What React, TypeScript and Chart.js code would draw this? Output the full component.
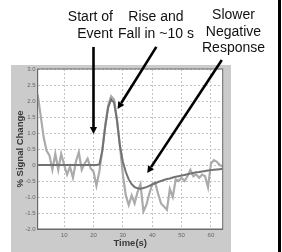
import React, { useEffect, useRef } from "react";
import { Chart, registerables } from "chart.js";

Chart.register(...registerables);

// Time points (s)
const timePoints = [
  1, 2, 3, 4, 5, 6, 7, 8, 9, 10, 11, 12, 13, 14, 15, 16, 17, 18, 19, 20, 21, 22,
  23, 24, 25, 26, 27, 28, 29, 30, 31, 32, 33, 34, 35, 36, 37, 38, 39, 40, 41, 42,
  43, 44, 45, 46, 47, 48, 49, 50, 51, 52, 53, 54, 55, 56, 57, 58, 59, 60, 61, 62,
  63, 64,
];

// Measured (noisy) % signal change
const measured = [
  2.2, 1.55, 0.88, 0.45, 0.3, -0.15, 0.35, -0.15, 0.35, 0.0, -0.3, -0.05, -0.4,
  0.1, 0.4, -0.15, 0.05, 0.2, -0.1, -0.2, -0.65, -0.2, 0.45, 1.25, 1.85, 2.15,
  2.05, 1.4, 0.6, -0.3, -0.95, -1.25, -0.95, -1.2, -0.85, -0.6, -1.45, -1.25,
  -0.9, -0.6, -0.55, -0.9, -1.2, -1.3, -1.4, -0.75, -1.0, -0.45, -0.5, -0.4,
  -0.5, -0.35, -0.15, -0.35, -0.3, -0.4, -0.3, -0.35, -0.7, 0.05, 0.15, 0.1, 0.0,
  -0.05,
];

// Model (smooth) response
const model = [
  0, 0, 0, 0, 0, 0, 0, 0, 0, 0, 0, 0, 0, 0, 0, 0, 0, 0, 0, 0, 0, 0.02, 0.45, 1.2,
  1.8, 2.05, 1.95, 1.4, 0.6, 0.1, -0.22, -0.45, -0.6, -0.69, -0.73, -0.74, -0.72,
  -0.69, -0.65, -0.61, -0.57, -0.53, -0.5, -0.47, -0.44, -0.42, -0.39, -0.37,
  -0.35, -0.33, -0.31, -0.29, -0.27, -0.25, -0.23, -0.22, -0.2, -0.19, -0.17,
  -0.16, -0.15, -0.14, -0.13, -0.12,
];

const xTicks = [10, 20, 30, 40, 50, 60];

// Annotation labels (lines) and arrows (tail -> tip, in data units)
const labelStart = ["Start of", "Event"];
const labelRise = ["Rise and", "Fall in ~10 s"];
const labelSlow = ["Slower", "Negative", "Response"];
const arrowTailT = [20, 41.4, 63.7];
const arrowTailV = [3.69, 3.69, 3.28];
const arrowTipT = [20, 28.2, 38.3];
const arrowTipV = [0.97, 1.75, -0.25];

const decorPlugin = {
  id: "decor",
  beforeDraw(chart: any) {
    const { ctx, chartArea: a } = chart;
    ctx.save();
    ctx.fillStyle = "#ffffff";
    ctx.fillRect(0, 0, chart.width, chart.height);
    ctx.fillStyle = "#cbcbcb";
    ctx.fillRect(11, 65, 220, chart.height - 65);
    ctx.fillStyle = "#ffffff";
    ctx.fillRect(a.left, a.top, a.right - a.left, a.bottom - a.top);
    ctx.restore();
  },
  afterDraw(chart: any) {
    const { ctx, chartArea: a, scales } = chart;
    const xs = scales.x;
    const ys = scales.y;
    ctx.save();
    // plot box
    ctx.strokeStyle = "#6a6a6a";
    ctx.lineWidth = 1;
    ctx.strokeRect(a.left, a.top, a.right - a.left, a.bottom - a.top);
    // right black bar
    ctx.fillStyle = "#000000";
    ctx.fillRect(278, 0, 3, chart.height);

    // texts
    ctx.fillStyle = "#111111";
    ctx.font = '14px "Liberation Sans", Arial, sans-serif';
    ctx.textBaseline = "alphabetic";
    ctx.textAlign = "right";
    labelStart.forEach((s, i) => ctx.fillText(s, 113, 21 + i * 16.5));
    ctx.textAlign = "center";
    labelRise.forEach((s, i) => ctx.fillText(s, 156, 21 + i * 16.5));
    labelSlow.forEach((s, i) => ctx.fillText(s, 233.5, 19 + i * 16.5));

    // arrows
    ctx.strokeStyle = "#000000";
    ctx.fillStyle = "#000000";
    ctx.lineWidth = 2.6;
    for (let i = 0; i < arrowTipT.length; i++) {
      const x1 = xs.getPixelForValue(arrowTailT[i]);
      const y1 = ys.getPixelForValue(arrowTailV[i]);
      const x2 = xs.getPixelForValue(arrowTipT[i]);
      const y2 = ys.getPixelForValue(arrowTipV[i]);
      const ang = Math.atan2(y2 - y1, x2 - x1);
      const hl = 7;
      const hw = 3.6;
      const bx = x2 - hl * Math.cos(ang);
      const by = y2 - hl * Math.sin(ang);
      ctx.beginPath();
      ctx.moveTo(x1, y1);
      ctx.lineTo(bx, by);
      ctx.stroke();
      ctx.beginPath();
      ctx.moveTo(x2, y2);
      ctx.lineTo(bx + hw * Math.sin(ang), by - hw * Math.cos(ang));
      ctx.lineTo(bx - hw * Math.sin(ang), by + hw * Math.cos(ang));
      ctx.closePath();
      ctx.fill();
    }
    ctx.restore();
  },
};

export default function App() {
  const ref = useRef<HTMLCanvasElement | null>(null);
  useEffect(() => {
    if (!ref.current) return;
    const tickFont = { family: '"Liberation Sans", Arial, sans-serif', size: 6 };
    const titleFont = {
      family: '"Liberation Sans", Arial, sans-serif',
      size: 9.5,
      weight: "bold" as const,
    };
    const chart = new Chart(ref.current, {
      type: "line",
      data: {
        datasets: [
          {
            data: timePoints.map((t, i) => ({ x: t, y: model[i] })),
            borderColor: "#727272",
            borderWidth: 2,
            pointRadius: 0,
            tension: 0,
          },
          {
            data: timePoints.map((t, i) => ({ x: t, y: measured[i] })),
            borderColor: "#ababab",
            borderWidth: 2.2,
            pointRadius: 0,
            tension: 0,
          },
        ],
      },
      options: {
        animation: false,
        responsive: false,
        maintainAspectRatio: false,
        layout: { padding: { left: 0, top: 69, right: 59.3, bottom: 0 } },
        plugins: { legend: { display: false }, tooltip: { enabled: false } },
        scales: {
          x: {
            type: "linear",
            min: 1,
            max: 64,
            afterBuildTicks: (s: any) => {
              s.ticks = xTicks.map((v) => ({ value: v }));
            },
            afterFit: (s: any) => {
              s.height = 23;
            },
            grid: { color: "#c4c4c4", drawTicks: false, lineWidth: 1 },
            border: { display: true, color: "#6a6a6a", dash: [2, 2] },
            ticks: { color: "#666", font: tickFont, padding: 3, maxRotation: 0 },
            title: {
              display: true,
              text: "Time(s)",
              color: "#3a3a3a",
              font: titleFont,
              padding: { top: 0, bottom: 2.5 },
            },
          },
          y: {
            min: -2,
            max: 3,
            ticks: { stepSize: 0.5, color: "#666", font: tickFont, padding: 2 },
            afterFit: (s: any) => {
              s.width = 37.7;
            },
            grid: { color: "#c4c4c4", drawTicks: false, lineWidth: 1 },
            border: { display: true, color: "#6a6a6a", dash: [2, 2] },
            title: {
              display: true,
              text: "% Signal Change",
              color: "#3a3a3a",
              font: titleFont,
              padding: { top: 14.5, bottom: 0 },
            },
          },
        },
      },
      plugins: [decorPlugin],
    });
    return () => chart.destroy();
  }, []);
  return (
    <div style={{ position: "absolute", left: 0, top: 0, width: 282, height: 252 }}>
      <canvas ref={ref} width={282} height={252} style={{ width: 282, height: 252 }} />
    </div>
  );
}
